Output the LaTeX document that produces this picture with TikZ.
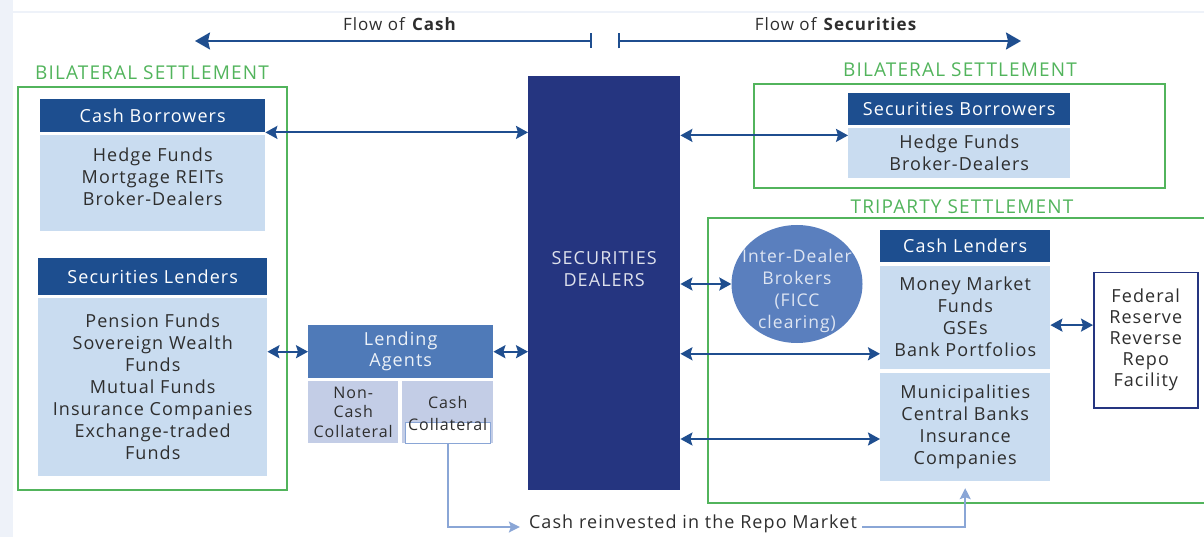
\documentclass[tikz,border=0pt]{standalone}
\usepackage{fontspec}
\setmainfont{Open Sans}[LetterSpace=6]
\usetikzlibrary{arrows.meta}
\usetikzlibrary{positioning}
\usetikzlibrary{shapes.geometric}
\definecolor{hdrblue}{HTML}{1D4E8F}
\definecolor{dealerblue}{HTML}{253580}
\definecolor{bodyblue}{HTML}{C9DCF0}
\definecolor{agentblue}{HTML}{4F7AB8}
\definecolor{collblue}{HTML}{C3CDE6}
\definecolor{ballblue}{HTML}{5A7FBE}
\definecolor{setgreen}{HTML}{52B45C}
\definecolor{flowblue}{HTML}{1F4E8F}
\definecolor{reinvblue}{HTML}{8AA6D6}
\definecolor{paleline}{HTML}{EEF2F9}
\definecolor{inktext}{HTML}{2E2E2E}

\begin{document}
\begin{tikzpicture} [
  x=1pt, y=-1pt,
  every node/.style={inner sep=0pt,text=inktext,font=\fontsize{18}{22}\selectfont},
  hdr/.style={fill=hdrblue,text=white,anchor=north west},
  body/.style={fill=bodyblue,align=center},
  coll/.style={fill=collblue,align=center,anchor=north west,
    font=\fontsize{16}{19.5}\selectfont},
  settle/.style={draw=setgreen,line width=1.4pt},
  settlelabel/.style={text=setgreen,font=\fontsize{19}{22}\selectfont},
  link/.style={draw=flowblue,line width=2pt,
    {Stealth[length=12pt,width=13pt,inset=2pt]}-{Stealth[length=12pt,width=13pt,inset=2pt]}},
  reinv/.style={draw=reinvblue,line width=1.5pt,-{Stealth[length=11pt,width=11pt,inset=2pt]}}
  ]
  \useasboundingbox (0,0) rectangle (1204,537);
  \fill[paleline] (0,0) rectangle (13,537);
  \draw[paleline,line width=1.5pt] (13,12) -- (1204,12);

  % flow of cash / securities
  \coordinate (cashtip) at (195,41);
  \coordinate (cashbar) at (592,41);
  \coordinate (secbar) at (618,41);
  \coordinate (sectip) at (1021,41);
  \draw[flowblue,line width=2pt,{Stealth[length=15pt,width=17pt,inset=2pt]}-{Bar[width=15pt]}] (cashtip) -- (cashbar);
  \draw[flowblue,line width=2pt,{Bar[width=15pt]}-{Stealth[length=15pt,width=17pt,inset=2pt]}] (secbar) -- (sectip);
  \node[font=\fontsize{17}{20}\selectfont] (flowcash) at (400,24) {Flow of \textbf{Cash}};
  \node[font=\fontsize{17}{20}\selectfont] (flowsec) at (836,24) {Flow of \textbf{Securities}};

  % left bilateral settlement
  \draw[settle] (18,87) rectangle (287,490);
  \node[settlelabel] (bilatl) at (152,73) {BILATERAL SETTLEMENT};
  \node[hdr,minimum width=225,minimum height=33] (cbhdr) at (40,99) {Cash Borrowers};
  \node[body,minimum width=225,minimum height=96,below=2pt of cbhdr] (cbbody)
    {Hedge Funds\\Mortgage REITs\\Broker-Dealers\\[-10pt]};
  \node[hdr,minimum width=229,minimum height=37] (slhdr) at (38,258) {Securities Lenders};
  \node[body,minimum width=229,minimum height=178,below=2pt of slhdr] (slbody)
    {Pension Funds\\Sovereign Wealth\\Funds\\Mutual Funds\\Insurance Companies\\Exchange-traded\\Funds};

  % dealers
  \node[fill=dealerblue,text=white!85!dealerblue,anchor=north west,align=center,
    minimum width=152,minimum height=414] (dealer) at (528,76) {SECURITIES\\DEALERS\\[6pt]};

  % lending agents
  \node[fill=agentblue,text=white!90!agentblue,anchor=north west,align=center,
    minimum width=185,minimum height=53] (agents) at (308,325) {Lending\\[-1pt]Agents};
  \node[coll,minimum width=90,minimum height=62] (noncash) at (308,381) {Non-\\Cash\\Collateral};
  \node[coll,minimum width=91,minimum height=62] (cashcoll) at (402,381) {};
  \node[fill=white,draw=reinvblue,line width=0.8pt,anchor=north west,
    minimum width=85,minimum height=21] (cashstrip) at (405,422) {};
  \node[align=center,font=\fontsize{16}{22}\selectfont,yshift=-1pt]
    (cashtxt) at (cashcoll) {Cash\\Collateral};

  % reinvestment
  \node (reinvtxt) at (693,524) {Cash reinvested in the Repo Market};

  % right bilateral settlement
  \draw[settle] (754,84) rectangle (1165,188);
  \node[settlelabel] (bilatr) at (960,70) {BILATERAL SETTLEMENT};
  \node[hdr,minimum width=222,minimum height=32] (sbhdr) at (848,93) {Securities Borrowers};
  \node[body,minimum width=222,minimum height=50,below=2pt of sbhdr] (sbbody)
    {Hedge Funds\\Broker-Dealers};

  % triparty settlement
  \draw[settle] (708,218) rectangle (1212,503);
  \node[settlelabel] (tripl) at (962,207) {TRIPARTY SETTLEMENT};
  \node[ellipse,fill=ballblue,minimum width=131,minimum height=118] (idb) at (797,284) {};
  \node[text=white!80!ballblue,align=center,font=\fontsize{17.5}{22}\selectfont,yshift=-7pt]
    (idbtxt) at (idb) {Inter-Dealer\\Brokers\\(FICC\\clearing)};
  \node[hdr,minimum width=170,minimum height=32] (clhdr) at (880,230) {Cash Lenders};
  \node[body,minimum width=170,minimum height=103,below=3pt of clhdr] (clupper)
    {Money Market\\Funds\\GSEs\\Bank Portfolios};
  \node[body,minimum width=170,minimum height=108,below=4pt of clupper] (cllower)
    {Municipalities\\Central Banks\\Insurance\\Companies};
  \node[draw=dealerblue,line width=1.5pt,fill=white,align=center,anchor=north west,
    minimum width=104,minimum height=135,font=\fontsize{18}{21}\selectfont] (fed) at (1093,272)
    {Federal\\Reserve\\Reverse\\Repo\\Facility};

  % connectors
  \draw[link] (cbhdr.south east) -- (cbhdr.south east -| dealer.west);
  \draw[link] (slbody.east |- agents.west) -- (agents.west);
  \draw[link] (agents.east) -- (agents.east -| dealer.west);
  \draw[link] ([yshift=-8pt]sbbody.north west -| dealer.east) -- ([yshift=-8pt]sbbody.north west);
  \draw[link] (idb.west -| dealer.east) -- (idb.west);
  \draw[link] ([yshift=15pt]clupper.south west -| dealer.east) -- ([yshift=15pt]clupper.south west);
  \draw[link] ([yshift=-12pt]cllower.west -| dealer.east) -- ([yshift=-12pt]cllower.west);
  \draw[link] ([yshift=-8pt]clupper.east) -- ([yshift=-8pt]clupper.east -| fed.west);
  \draw[reinv] (cashstrip.south) |- ([xshift=-9pt,yshift=-3pt]reinvtxt.west);
  \draw[reinv,shorten >=7pt] ([xshift=5pt,yshift=-3pt]reinvtxt.east) -| (cllower.south);
\end{tikzpicture}
\end{document}
